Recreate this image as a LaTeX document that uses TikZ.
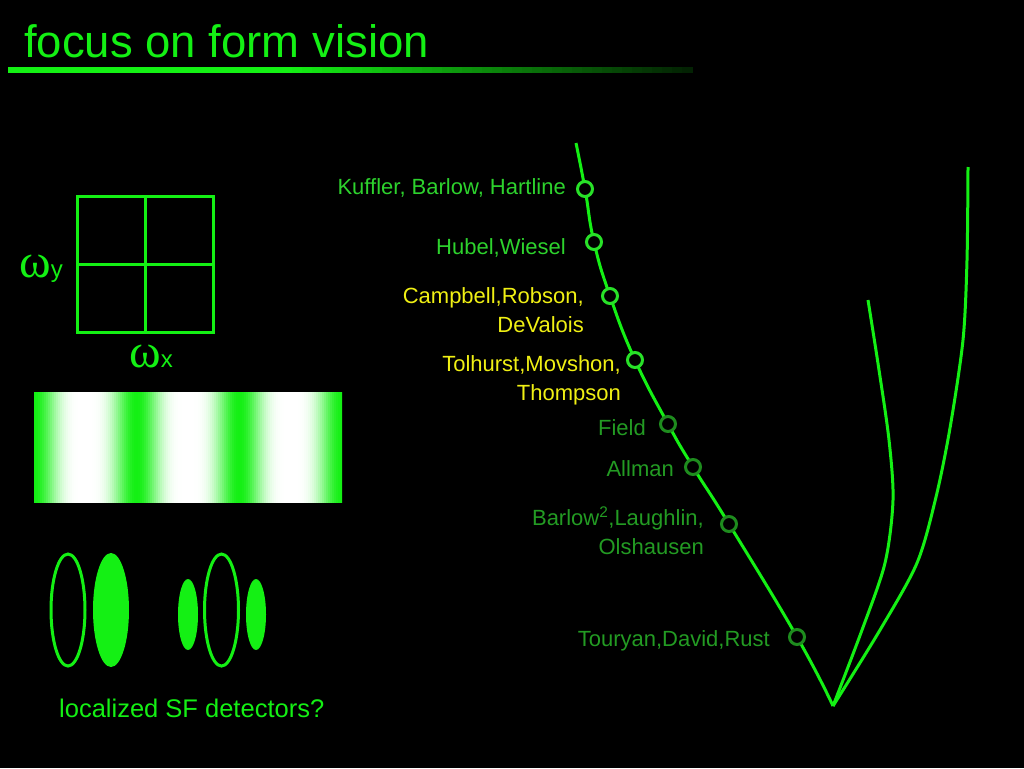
\documentclass[tikz,border=0pt]{standalone}
\usepackage{fontspec}
\setmainfont{Liberation Sans}
\newfontfamily\grkfont{Liberation Serif}
\definecolor{G}{RGB}{20,240,20}
\definecolor{LG}{RGB}{45,210,45}
\definecolor{DG}{RGB}{35,155,35}
\definecolor{YL}{RGB}{240,240,20}
\definecolor{CB}{RGB}{40,225,40}
\definecolor{CD}{RGB}{30,140,30}
\tikzset{
  lbl/.style={anchor=base east, inner sep=0, font=\fontsize{22}{29}\selectfont},
  mlbl/.style={anchor=north east, inner sep=0, align=right, font=\fontsize{22}{29}\selectfont},
  dotc/.style={circle, draw, line width=3pt, fill=black, minimum size=15pt, inner sep=0},
  curve/.style={draw=G, line width=3pt},
  gridline/.style={draw=G, line width=3pt},
  ring/.style={draw=G, line width=3pt},
  blob/.style={fill=G}
}
\begin{document}
\begin{tikzpicture}[x=1pt,y=-1pt]
\fill[black] (0,0) rectangle (1024,768);
\useasboundingbox (0,0) rectangle (1024,768);

% title
\node[anchor=base west, inner sep=0, text=G, font=\fontsize{45.5}{46}\selectfont] (title) at (24,58) {focus on form vision};
\fill[G] (8,67) rectangle (282,73);
\foreach \i in {0,...,40} {
  \pgfmathsetmacro\lx{282+10*\i}
  \pgfmathsetmacro\lp{100-2.15*\i}
  \fill[G!\lp!black] (\lx,67) rectangle (\lx+10.5,73);
}

% frequency grid
\draw[gridline] (77,196) rectangle (213,332);
\draw[gridline] (145,196) -- (145,332);
\draw[gridline] (77,264) -- (213,264);
\node[anchor=base west, inner sep=0, text=G] (wy) at (19,277) {{\grkfont\fontsize{48}{48}\selectfont ω}{\fontsize{24}{24}\selectfont y}};
\node[anchor=base west, inner sep=0, text=G] (wx) at (129,367) {{\grkfont\fontsize{48}{48}\selectfont ω}{\fontsize{24}{24}\selectfont x}};

% grating
\begin{scope}
\clip (34,392) rectangle (342,503);
\foreach \i in {0,...,154} {
  \pgfmathsetmacro\xx{34+2*\i}
  \pgfmathsetmacro\aa{(\xx+1-34)*3.5064}
  \pgfmathsetmacro\cc{max((1+cos(\aa))/2,0.001)}
  \pgfmathsetmacro\g{100*\cc*\cc}
  \fill[G!\g!white] (\xx,392) rectangle (\xx+2.4,503);
}
\end{scope}

% receptive field detectors
\draw[ring] (68,610) ellipse [x radius=17, y radius=56];
\fill[blob] (111,610) ellipse [x radius=18, y radius=57];
\fill[blob] (188,614.5) ellipse [x radius=10, y radius=35.5];
\draw[ring] (221.5,610) ellipse [x radius=17, y radius=56];
\fill[blob] (256,614.5) ellipse [x radius=10, y radius=35.5];
\node[anchor=base west, inner sep=0, text=G, font=\fontsize{25.5}{30}\selectfont] (loc) at (59,717) {localized SF detectors?};

% main curve
\coordinate (top) at (576,143);
\coordinate (c1) at (585,189);
\coordinate (c2) at (594,242);
\coordinate (c3) at (610,296);
\coordinate (c4) at (635,360);
\coordinate (c5) at (668,424);
\coordinate (c6) at (693,467);
\coordinate (c7) at (729,524);
\coordinate (c8) at (797,637);
\coordinate (v) at (833,706);
\draw[curve] plot[smooth, tension=0.8] coordinates {(top) (c1) (c2) (c3) (c4) (c5) (c6) (c7) (c8) (v)};

% right curves
\coordinate (otop) at (968,167);
\coordinate (itop) at (868,300);
\draw[curve] plot[smooth, tension=0.5] coordinates {(otop) (967,260) (963,340) (950,428) (936,497) (917,563) (880,630) (v)};
\draw[curve] plot[smooth, tension=0.5] coordinates {(itop) (879,370) (889,440) (893,500) (885,563) (862,630) (v)};

% markers
\node[dotc, draw=CB] (d1) at (c1) {};
\node[dotc, draw=CB] (d2) at (c2) {};
\node[dotc, draw=CB] (d3) at (c3) {};
\node[dotc, draw=CB] (d4) at (c4) {};
\node[dotc, draw=CD] (d5) at (c5) {};
\node[dotc, draw=CD] (d6) at (c6) {};
\node[dotc, draw=CD] (d7) at (c7) {};
\node[dotc, draw=CD] (d8) at (c8) {};

% labels
\node[lbl, text=LG] (lk) at (566,194) {Kuffler, Barlow, Hartline};
\node[lbl, text=LG] (lh) at (566,254) {Hubel,Wiesel};
\node[mlbl, text=YL] (lc) at (584,287) {Campbell,Robson,\\DeValois};
\node[mlbl, text=YL] (lt) at (621,355) {Tolhurst,Movshon,\\Thompson};
\node[lbl, text=DG] (lf) at (646,435) {Field};
\node[lbl, text=DG] (la) at (674,476) {Allman};
\node[mlbl, text=DG] (lb) at (704,507) {Barlow\textsuperscript{2},Laughlin,\\Olshausen};
\node[lbl, text=DG] (lr) at (770,646) {Touryan,David,Rust};
\end{tikzpicture}
\end{document}
